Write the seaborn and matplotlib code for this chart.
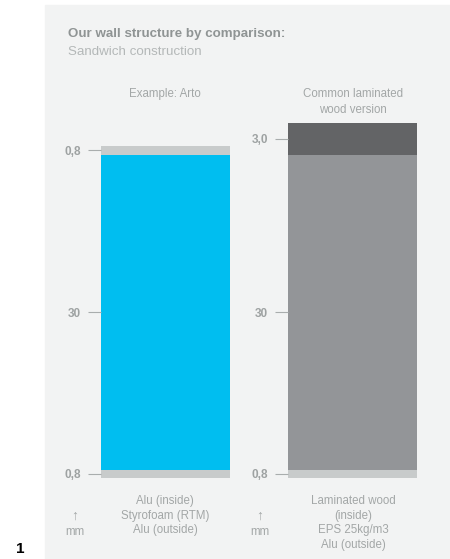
import matplotlib
matplotlib.use("Agg")
import matplotlib.pyplot as plt
from matplotlib.patches import Rectangle
import seaborn as sns

# layer thickness in mm, listed bottom (outside) to top (inside)
arto_layers = [0.8, 30, 0.8]
wood_layers = [0.8, 30, 3.0]
arto_colors = ["#c8cbcb", "#00bef0", "#c8cbcb"]
wood_colors = ["#c8cbcb", "#939598", "#636466"]
arto_ticks = ["0,8", "30", "0,8"]
wood_ticks = ["0,8", "30", "3,0"]

titles = ["Example: Arto", "Common laminated\nwood version"]
arto_names = ["Alu (inside)", "Styrofoam (RTM)", "Alu (outside)"]
wood_names = ["Laminated wood", "(inside)", "EPS 25kg/m3", "Alu (outside)"]

text_grey = "#a3a7a7"
fonts = ["Liberation Sans", "DejaVu Sans"]
plt.rcParams["font.family"] = fonts

W, H = 450, 559
fig = plt.figure(figsize=(W / 100, H / 100), dpi=100)
fig.patch.set_facecolor("white")

# light panel behind the chart
fig.patches.append(Rectangle((45 / W, 0), 1 - 45 / W, (H - 5) / H,
                             transform=fig.transFigure, color="#f2f3f3", zorder=-5))

ymax = max(sum(arto_layers), sum(wood_layers))
bottom = (H - 478) / H
height = 355 / H


def draw_stack(left, layers, colors, ticks):
    ax = fig.add_axes([left / W, bottom, 129 / W, height])
    ax.set_facecolor("none")
    # draw from the full stack downwards so each layer shows its own slice
    totals = [sum(layers[:i + 1]) for i in range(len(layers))]
    for total, c in reversed(list(zip(totals, colors))):
        sns.barplot(x=["x"], y=[total], color=c, width=1, saturation=1,
                    linewidth=0, ax=ax)
    centers = [t - l / 2 for t, l in zip(totals, layers)]
    ax.set_xlim(-0.5, 0.5)
    ax.set_ylim(0, ymax)
    ax.set_yticks(centers)
    ax.set_yticklabels(ticks, fontweight="bold")
    ax.set_xticks([])
    ax.set_xlabel("")
    ax.set_ylabel("")
    ax.tick_params(axis="y", length=9.5, width=0.8, color="#a9adad", pad=5,
                   labelcolor="#9ea2a2", labelsize=8.5)
    for s in ax.spines.values():
        s.set_visible(False)
    return ax


draw_stack(101, arto_layers, arto_colors, arto_ticks)
draw_stack(288, wood_layers, wood_colors, wood_ticks)


def ftext(x, y, s, **kw):
    fig.text(x / W, 1 - y / H, s, **kw)


ftext(68, 34, "Our wall structure by comparison:", fontsize=9.6, fontweight="bold",
      color="#8f9494", va="center")
ftext(68, 52, "Sandwich construction", fontsize=9.6, color="#b4b8b8", va="center")

ftext(165, 94, titles[0], fontsize=8.3, color=text_grey, ha="center", va="center")
ftext(353, 102, titles[1], fontsize=8.3, color=text_grey, ha="center", va="center",
      linespacing=1.45)

for i, name in enumerate(arto_names):
    ftext(165, 501 + 14.7 * i, name, fontsize=8.3, color=text_grey, ha="center", va="center")
for i, name in enumerate(wood_names):
    ftext(353, 501 + 14.7 * i, name, fontsize=8.3, color=text_grey, ha="center", va="center")

for x in (75, 260):
    ftext(x, 516, "\u2191", fontsize=10, color=text_grey, ha="center", va="center")
    ftext(x, 532, "mm", fontsize=8.3, color=text_grey, ha="center", va="center")

ftext(20, 549, "1", fontsize=11, fontweight="bold", color="black", ha="center", va="center")

fig.savefig("out.png", dpi=100, facecolor="white")
